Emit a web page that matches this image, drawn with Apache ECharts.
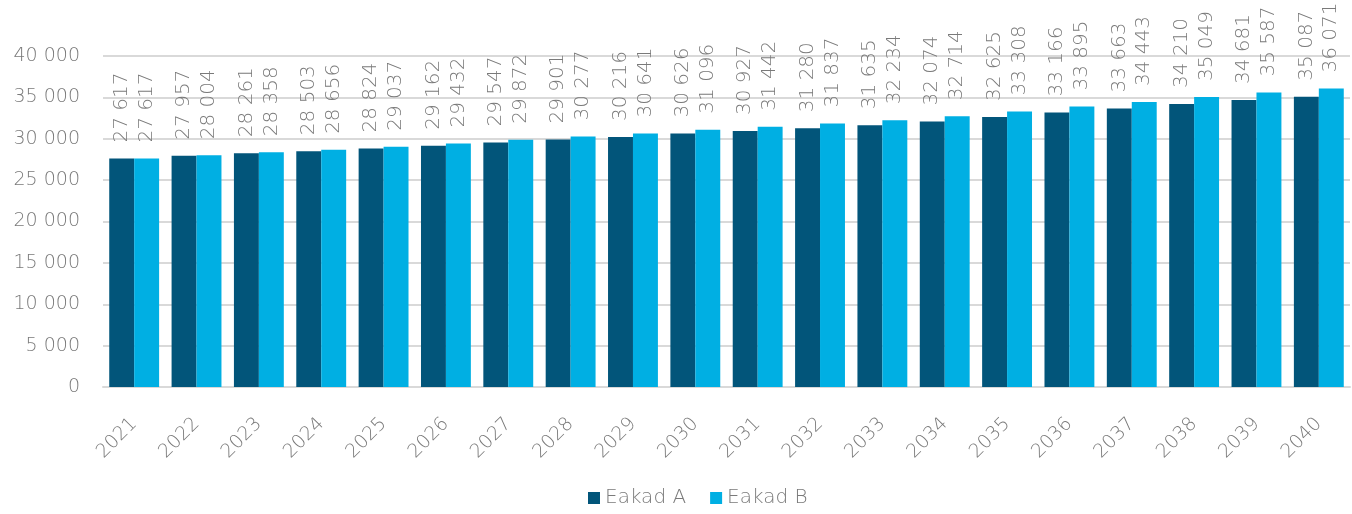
<!DOCTYPE html>
<html>
<head>
<meta charset="utf-8">
<script src="https://cdn.jsdelivr.net/npm/echarts@6/dist/echarts.min.js"></script>
<style>
  html, body { margin: 0; padding: 0; background: #fff; }
  #chart { width: 1352px; height: 514px; }
</style>
</head>
<body>
<div id="chart"></div>
<script>
var years = ['2021', '2022', '2023', '2024', '2025', '2026', '2027', '2028', '2029', '2030',
  '2031', '2032', '2033', '2034', '2035', '2036', '2037', '2038', '2039', '2040']
var eakadA = [27617, 27957, 28261, 28503, 28824, 29162, 29547, 29901, 30216, 30626,
  30927, 31280, 31635, 32074, 32625, 33166, 33663, 34210, 34681, 35087]
var eakadB = [27617, 28004, 28358, 28656, 29037, 29432, 29872, 30277, 30641, 31096,
  31442, 31837, 32234, 32714, 33308, 33895, 34443, 35049, 35587, 36071]
var seriesNames = ['Eakad A', 'Eakad B']

var fontName = "'DejaVu Sans', sans-serif"
var lightWeight = 200
var grey = '#7a7a7a'

function spaced(v) {
  return String(v).replace(/\B(?=(\d{3})+(?!\d))/g, ' ')
}

function makeSeries(name, data, color) {
  return {
    name: name,
    type: 'bar',
    data: data,
    barGap: '0%',
    barCategoryGap: '20%',
    itemStyle: { color: color },
    label: {
      show: true,
      position: 'top',
      distance: 16,
      rotate: 90,
      align: 'left',
      verticalAlign: 'middle',
      color: grey,
      fontFamily: fontName,
      fontWeight: lightWeight,
      fontSize: 20,
      formatter: function(p) { return spaced(p.value) }
    }
  }
}

var chart = echarts.init(document.getElementById('chart'))
chart.setOption({
  animation: false,
  textStyle: { fontFamily: fontName },
  grid: { left: 103, right: 2, top: 56, bottom: 127, containLabel: false },
  legend: {
    data: seriesNames,
    bottom: 1,
    left: 583,
    itemWidth: 12,
    itemHeight: 12,
    itemGap: 24,
    icon: 'rect',
    textStyle: { color: grey, fontSize: 20, fontWeight: lightWeight, fontFamily: fontName }
  },
  xAxis: {
    type: 'category',
    data: years,
    axisTick: { show: false },
    axisLine: { lineStyle: { color: '#d9d9d9', width: 2 } },
    axisLabel: {
      rotate: 45,
      margin: 34,
      color: grey,
      fontSize: 19,
      fontWeight: lightWeight,
      fontFamily: fontName
    }
  },
  yAxis: {
    type: 'value',
    min: 0,
    max: 40000,
    interval: 5000,
    axisLine: { show: false },
    axisTick: { show: false },
    splitLine: { lineStyle: { color: '#d9d9d9', width: 2 } },
    axisLabel: {
      margin: 23,
      color: grey,
      fontSize: 19,
      fontWeight: lightWeight,
      fontFamily: fontName,
      formatter: function(v) { return spaced(v) }
    }
  },
  series: [
    makeSeries(seriesNames[0], eakadA, '#02557a'),
    makeSeries(seriesNames[1], eakadB, '#00afe3')
  ]
})
</script>
</body>
</html>
